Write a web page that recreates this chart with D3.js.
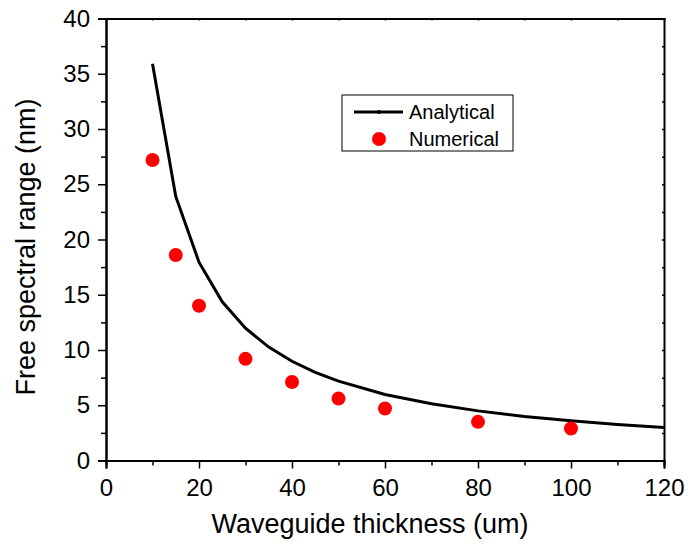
<html>
<head>
<script src="https://d3js.org/d3.v7.min.js"></script>
<style>
body { margin: 0; background: #fff; }
text { font-family: "Liberation Sans", Arial, sans-serif; fill: #000; }
</style>
</head>
<body>
<script>
// analytical curve
var thick = [10, 15, 20, 25, 30, 35, 40, 45, 50, 60, 70, 80, 90, 100, 110, 120];
var fsrAnalytical = [35.9, 23.9, 17.95, 14.36, 11.97, 10.26, 8.98, 7.98, 7.18, 5.98, 5.13, 4.49, 3.99, 3.59, 3.26, 2.99];

// numerical points
var thickNum = [10, 15, 20, 30, 40, 50, 60, 80, 100];
var fsrNumerical = [27.2, 18.6, 14.0, 9.2, 7.1, 5.6, 4.7, 3.5, 2.9];

var xTicks = [0, 20, 40, 60, 80, 100, 120];
var yTicks = [0, 5, 10, 15, 20, 25, 30, 35, 40];

var width = 690, height = 544;
var mLeft = 106, mRight = 664, mTop = 18.5, mBottom = 460.5;

var svg = d3.select('body').append('svg')
  .attr('width', width)
  .attr('height', height);

var x = d3.scaleLinear().domain([0, 120]).range([mLeft, mRight]);
var y = d3.scaleLinear().domain([0, 40]).range([mBottom, mTop]);

// bottom axis, major + minor ticks outward
var gx = svg.append('g').attr('transform', 'translate(0,' + mBottom + ')');
gx.call(d3.axisBottom(x).tickValues(d3.range(10, 120, 20)).tickSize(5).tickFormat(''));
var gx2 = svg.append('g').attr('transform', 'translate(0,' + mBottom + ')');
gx2.call(d3.axisBottom(x).tickValues(xTicks).tickSize(8).tickPadding(10));
gx2.selectAll('text').attr('font-size', 24).attr('font-family', null);

// left axis
var gy = svg.append('g').attr('transform', 'translate(' + mLeft + ',0)');
gy.call(d3.axisLeft(y).tickValues(d3.range(2.5, 40, 5)).tickSize(5).tickFormat(''));
var gy2 = svg.append('g').attr('transform', 'translate(' + mLeft + ',0)');
gy2.call(d3.axisLeft(y).tickValues(yTicks).tickSize(8).tickPadding(8));
gy2.selectAll('text').attr('font-size', 24).attr('font-family', null);

// top and right axes, small inward ticks
var gt = svg.append('g').attr('transform', 'translate(0,' + mTop + ')');
gt.call(d3.axisBottom(x).tickValues(d3.range(0, 121, 10)).tickSize(2).tickFormat(''));
var gr = svg.append('g').attr('transform', 'translate(' + mRight + ',0)');
gr.call(d3.axisLeft(y).tickValues(d3.range(0, 41, 2.5)).tickSize(2).tickFormat(''));

svg.selectAll('g').attr('font-family', null);
svg.selectAll('.domain').attr('stroke', '#000').attr('stroke-width', 2);
svg.selectAll('.tick line').attr('stroke', '#000').attr('stroke-width', 1.5);

// axis titles
svg.append('text')
  .attr('x', 370)
  .attr('y', 533)
  .attr('text-anchor', 'middle')
  .attr('font-size', 27)
  .text('Waveguide thickness (um)');

svg.append('text')
  .attr('transform', 'translate(35,247) rotate(-90)')
  .attr('text-anchor', 'middle')
  .attr('font-size', 27)
  .text('Free spectral range (nm)');

// analytical line
var line = d3.line()
  .x(function(d, i) { return x(thick[i]); })
  .y(function(d) { return y(d); });

svg.append('path')
  .datum(fsrAnalytical)
  .attr('d', line)
  .attr('fill', 'none')
  .attr('stroke', '#000')
  .attr('stroke-width', 3);

// numerical dots
svg.selectAll('circle.num')
  .data(fsrNumerical)
  .enter()
    .append('circle')
      .attr('class', 'num')
      .attr('cx', function(d, i) { return x(thickNum[i]); })
      .attr('cy', function(d) { return y(d); })
      .attr('r', 7)
      .attr('fill', '#ff0000');

// legend
var lg = svg.append('g').attr('transform', 'translate(342,95)');
lg.append('rect')
  .attr('width', 171).attr('height', 56)
  .attr('fill', '#fff').attr('stroke', '#000').attr('stroke-width', 1);
lg.append('line')
  .attr('x1', 12).attr('x2', 61).attr('y1', 17).attr('y2', 17)
  .attr('stroke', '#000').attr('stroke-width', 3);
lg.append('circle').attr('cx', 37).attr('cy', 17).attr('r', 2).attr('fill', '#000');
lg.append('text').attr('x', 67).attr('y', 24).attr('font-size', 20).text('Analytical');
lg.append('circle').attr('cx', 37).attr('cy', 44).attr('r', 7).attr('fill', '#ff0000');
lg.append('text').attr('x', 67).attr('y', 51).attr('font-size', 20).text('Numerical');
</script>
</body>
</html>
